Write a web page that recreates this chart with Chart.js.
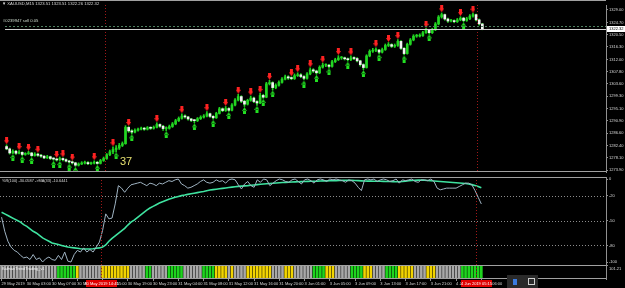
<!DOCTYPE html>
<html>
<head>
<meta charset="utf-8">
<script src="https://cdn.jsdelivr.net/npm/chart.js@4.4.0/dist/chart.umd.min.js"></script>
<style>
body { margin: 0; background: #000; }
#wrap { position: relative; width: 625px; height: 288px; background: #000; overflow: hidden; font-family: "Liberation Sans", Arial, sans-serif; }
canvas { position: absolute; left: 0; }
.t { position: absolute; white-space: nowrap; color: #dcdcdc; font-size: 4.2px; line-height: 1; }
</style>
</head>
<body>
<div id="wrap">
  <canvas id="priceChart" width="625" height="177" style="top:0"></canvas>
  <canvas id="wprChart" width="625" height="88" style="top:177px"></canvas>
  <canvas id="stripChart" width="625" height="23" style="top:265px"></canvas>
  <div class="t" style="left:2px;top:2px">▼ XAUUSD,M15 1323.51 1323.51 1322.26 1322.32</div>
  <div class="t" style="left:3px;top:19px;color:#cfdccf">#0239947 sell 0.05</div>
  <div class="t" style="left:2px;top:179px;font-size:3.9px">%R(100) -30.0587 -&gt;MA(33) -10.6441</div>
  <div class="t" style="left:2px;top:267px;font-size:3.9px;color:#f4f4f4">KalmanTrendTrading_v1</div>
  <div style="position:absolute;left:120px;top:155px;font-size:11px;color:#e6e070;font-family:'Liberation Sans',Arial,sans-serif">37</div>
  <div style="position:absolute;left:507px;top:275px;width:31px;height:13px;background:#2a2a2a"></div>
  <div style="position:absolute;left:513px;top:279px;width:4px;height:6px;background:#3a7be0"></div>
  <div style="position:absolute;left:528px;top:278px;width:5px;height:5px;border:1px solid #d0d0d0"></div>
</div>
<script>
// ---- data ----
var timeTicks = ['29 May 2019', '30 May 03:00', '30 May 07:00', '30 May 11:00', '30 May 15:00',
  '30 May 19:00', '30 May 23:00', '31 May 04:00', '31 May 08:00', '31 May 12:00', '31 May 16:00',
  '31 May 20:00', '3 Jun 01:00', '3 Jun 05:00', '3 Jun 09:00', '3 Jun 13:00', '3 Jun 17:00',
  '3 Jun 21:00', '4 Jun 02:00', '4 Jun 06:00'];
var priceTicks = [1273.90, 1278.10, 1282.40, 1286.60, 1290.90, 1295.10, 1299.30, 1303.60,
  1307.80, 1312.00, 1316.30, 1320.50, 1324.70, 1329.00];
var wprTicks = [0, -20, -50, -80, -100];
var wprLevels = [-20, -50, -80];
var stripAxisLabels = ['101.21'];

var firstOpen = 1282.0;
var closes = [1281.2,1279.8,1280.4,1279.7,1280.0,1279.3,1279.5,1279.8,1278.9,1279.4,
  1279.0,1278.7,1278.1,1278.5,1277.9,1277.7,1277.4,1277.9,1277.5,1277.0,
  1276.7,1276.4,1275.6,1276.0,1276.3,1276.5,1276.1,1276.3,1276.6,1276.2,
  1277.2,1277.9,1279.2,1280.2,1281.0,1281.5,1282.4,1283.0,1288.6,1287.4,
  1287.0,1287.6,1288.0,1288.2,1288.0,1288.5,1288.3,1288.6,1289.6,1289.0,
  1288.2,1288.3,1288.9,1289.8,1290.9,1291.7,1292.5,1292.2,1291.5,1291.0,
  1290.9,1291.6,1292.1,1292.5,1293.3,1292.4,1291.9,1293.4,1295.0,1294.4,
  1295.1,1294.5,1296.3,1298.0,1299.2,1297.6,1296.6,1297.9,1298.7,1297.5,
  1297.0,1299.6,1299.0,1303.6,1304.0,1302.3,1303.1,1304.1,1305.2,1306.0,
  1305.6,1305.4,1306.4,1306.7,1306.1,1305.5,1307.0,1308.4,1308.0,1307.4,
  1309.3,1310.0,1310.0,1309.6,1311.2,1311.9,1312.5,1312.5,1312.2,1311.9,
  1312.5,1312.3,1311.5,1310.2,1309.2,1313.2,1314.8,1315.1,1315.2,1314.5,
  1315.4,1316.8,1317.1,1316.5,1316.8,1318.2,1315.8,1314.0,1317.2,1318.7,
  1320.0,1320.0,1320.2,1321.2,1322.0,1321.2,1322.2,1324.2,1326.6,1327.4,
  1325.9,1325.2,1325.3,1325.0,1325.6,1326.2,1325.4,1326.0,1326.9,1327.4,
  1325.6,1324.2,1322.32];
var highs = [1282.6,1281.5,1280.9,1280.7,1280.6,1280.2,1279.9,1280.4,1280.0,1279.9,
  1279.7,1279.3,1278.9,1279.0,1278.7,1278.2,1277.9,1278.4,1278.1,1277.8,
  1277.3,1277.0,1276.6,1276.4,1276.8,1277.0,1276.8,1276.7,1277.1,1276.9,
  1277.6,1278.4,1279.6,1280.8,1281.9,1282.3,1283.1,1283.6,1289.2,1288.9,
  1287.8,1288.1,1288.4,1288.7,1288.6,1288.9,1288.8,1289.1,1290.2,1289.8,
  1289.3,1288.8,1289.4,1290.3,1291.4,1292.2,1293.3,1292.9,1292.4,1291.7,
  1291.3,1292.0,1292.6,1293.0,1294.0,1293.5,1292.7,1293.8,1295.5,1295.3,
  1295.8,1295.4,1296.8,1298.5,1300.0,1299.5,1297.9,1298.3,1299.4,1299.0,
  1297.8,1300.3,1300.0,1304.1,1304.8,1304.3,1303.6,1304.6,1305.7,1306.6,
  1306.4,1306.0,1307.0,1307.4,1307.1,1306.4,1307.5,1309.1,1308.8,1308.3,
  1309.8,1310.7,1310.5,1310.3,1311.7,1312.4,1313.3,1313.0,1312.8,1312.5,
  1313.2,1312.9,1312.6,1311.7,1310.5,1313.6,1315.3,1315.8,1316.0,1315.5,
  1315.9,1317.3,1317.8,1317.4,1317.3,1318.8,1318.5,1316.1,1317.6,1319.2,
  1320.5,1320.6,1320.8,1321.7,1322.7,1322.3,1322.7,1324.7,1327.1,1328.0,
  1327.6,1326.2,1325.8,1325.6,1326.1,1326.7,1326.5,1326.5,1327.4,1327.9,
  1327.6,1325.9,1324.4];
var lows = [1280.9,1279.4,1279.6,1279.3,1279.5,1278.9,1279.0,1279.3,1278.6,1278.7,
  1278.6,1278.3,1277.8,1277.9,1277.5,1277.3,1277.0,1277.2,1277.1,1276.7,
  1276.3,1276.0,1275.2,1275.3,1275.8,1276.0,1275.8,1275.9,1276.0,1275.9,
  1276.0,1276.9,1277.6,1278.9,1279.6,1280.2,1281.0,1282.0,1282.8,1286.9,
  1286.4,1286.7,1287.3,1287.7,1287.6,1287.7,1287.9,1288.0,1288.4,1288.6,
  1287.6,1287.5,1288.0,1288.6,1289.5,1290.6,1291.4,1291.8,1291.1,1290.6,
  1290.2,1290.6,1291.3,1291.8,1292.2,1292.0,1291.4,1291.7,1293.2,1294.0,
  1294.1,1294.1,1294.3,1296.0,1297.7,1297.1,1295.8,1296.3,1297.6,1297.1,
  1296.2,1296.8,1298.6,1298.8,1303.2,1301.5,1301.9,1302.8,1303.8,1304.9,
  1305.1,1305.0,1305.1,1306.1,1305.7,1304.9,1305.2,1306.7,1307.5,1306.9,
  1307.1,1309.0,1309.5,1309.1,1309.3,1310.9,1311.6,1312.0,1311.8,1311.4,
  1311.6,1311.9,1311.1,1309.7,1308.5,1309.0,1312.9,1314.4,1314.7,1314.0,
  1314.2,1315.1,1316.4,1316.1,1316.1,1316.5,1315.4,1313.5,1313.8,1316.9,
  1318.4,1319.6,1319.7,1319.9,1320.9,1320.8,1320.9,1321.9,1323.9,1326.2,
  1325.5,1324.7,1324.9,1324.6,1324.7,1325.3,1325.0,1325.1,1325.7,1326.5,
  1325.2,1323.8,1322.2];

var downArrowBars = [0,4,7,10,16,18,21,28,34,39,48,56,64,70,74,78,81,84,91,93,97,101,106,110,118,122,125,134,139,145,149];
var upArrowBars = [2,5,8,15,17,20,22,29,35,40,51,60,66,71,76,80,82,85,95,99,103,109,114,119,127,135,146];

var orderPrice = 1323.35;

var wpr = [-46,-63,-75,-82,-86,-88,-92,-95,-94,-97,
  -91,-97,-95,-100,-96,-94,-97,-98,-92,-97,
  -88,-99,-100,-91,-86,-88,-83,-88,-85,-88,
  -82,-76,-62,-42,-48,-47,-30,-8,-11,-16,
  -11,-7,-6,-5,-4,-6,-8,-5,-6,-8,
  -5,-6,-4,-2,-3,-1,0,-6,-8,-11,
  -10,-8,-6,-3,-1,-4,-5,-4,-1,-3,
  -2,-5,-1,0,-1,-7,-12,-6,-3,-8,
  -10,-1,-4,0,-1,-8,-5,-2,0,-1,
  -3,-4,-1,0,-3,-6,-1,0,-2,-5,
  -1,0,-1,-3,0,-1,0,-1,-2,-4,
  -1,-2,-5,-10,-14,-1,0,-1,0,-3,
  -1,0,-1,-3,-2,0,-5,-1,-2,-1,
  0,-3,-4,-1,-1,-2,0,-3,-11,-13,
  -12,-11,-11,-11,-11,-9,-7,-5,-5,-7,
  -14,-22,-30.06];
var wprMa = [-40,-42,-44,-46,-48,-50,-52,-55,-57,-60,
  -63,-65,-68,-71,-73,-75,-77,-78,-79,-80,
  -81,-82,-82.5,-83,-83.5,-84,-84.3,-84.3,-84.3,-84,
  -83.5,-83,-82,-79.5,-75,-71.5,-68.5,-65.5,-62.5,-59.5,
  -55.5,-52,-49.5,-46.5,-43.5,-40.5,-37.5,-35,-33,-31,
  -29,-27.5,-26,-24.5,-23.3,-22.1,-21,-20,-19.3,-18.5,
  -17.8,-17.1,-16.4,-15.7,-15,-14.1,-13.3,-12.8,-12.3,-11.8,
  -11.3,-10.8,-10.3,-9.8,-9.3,-8.9,-8.6,-8.3,-8.0,-7.6,
  -7.2,-6.8,-6.4,-6.0,-5.7,-5.4,-5.1,-4.8,-4.5,-4.3,
  -4.1,-3.9,-3.7,-3.5,-3.4,-3.2,-3.0,-2.9,-2.8,-2.7,
  -2.6,-2.4,-2.3,-2.2,-2.1,-2.0,-1.9,-1.8,-1.7,-1.6,
  -1.5,-1.6,-1.8,-2.0,-2.2,-2.4,-2.5,-2.6,-2.7,-2.8,
  -2.8,-2.9,-3.0,-3.1,-3.2,-3.3,-3.4,-3.0,-2.6,-2.2,
  -1.8,-1.5,-1.3,-1.3,-1.5,-1.8,-2.1,-2.4,-2.7,-3.0,
  -3.3,-3.6,-3.9,-4.2,-4.5,-4.8,-5.1,-5.5,-6.0,-6.8,
  -7.8,-9.0,-10.64];

// strip indicator state per bar: - neutral, G up, Y caution
var stripCodes = ('------------------' + 'GGGGGG' + 'Y' + '-------' + 'YYYYYYYYY' + '-----' +
  'GG' + '-----' + 'GGGGG' + '------' + 'GGGG' + 'YYYY' + '-' + 'Y' + '----' + 'YYYYYYYY' +
  '----' + 'YYY' + '------' + 'GGGG' + 'YYY' + '-----' + 'GGGG' + 'YYY' + '----' + 'GGGG' +
  'YYYYY' + '----' + 'YYY' + '--------' + 'GGGGGGG').split('');

// vertical line objects (bar position) and their time captions
var markerBars = [31.5, 150.4];
var markerTimes = ['30 May 2019 14:45', '4 Jun 2019 05:15'];

// ---- layout / style ----
var totalBars = 192;
var barsPerTick = 8;
var axisWidth = 19;
var tickFont = { family: 'Liberation Sans', size: 4 };
var frameColor = '#a0a0a0';
var barIndex = Array.from({ length: totalBars }, function (_, i) { return i; });
var opens = closes.map(function (c, i) { return i === 0 ? firstOpen : closes[i - 1]; });

function makeArrow(color, down) {
  var c = document.createElement('canvas');
  c.width = 5; c.height = 7;
  var g = c.getContext('2d');
  g.fillStyle = color;
  g.beginPath();
  if (down) {
    g.rect(1, 0, 3, 3.5);
    g.moveTo(0, 3); g.lineTo(5, 3); g.lineTo(2.5, 7);
  } else {
    g.rect(1, 3.5, 3, 3.5);
    g.moveTo(0, 4); g.lineTo(5, 4); g.lineTo(2.5, 0);
  }
  g.fill();
  return c;
}

function hline(ctx, y, x0, x1, color, dash) {
  ctx.save();
  ctx.strokeStyle = color; ctx.lineWidth = 1;
  ctx.setLineDash(dash || []);
  ctx.beginPath(); ctx.moveTo(x0, y); ctx.lineTo(x1, y); ctx.stroke();
  ctx.restore();
}

var markerLines = {
  id: 'markerLines',
  afterDatasetsDraw: function (chart) {
    var ctx = chart.ctx, a = chart.chartArea, x = chart.scales.x;
    ctx.save();
    ctx.strokeStyle = '#a01818'; ctx.lineWidth = 1; ctx.setLineDash([1, 2]);
    markerBars.forEach(function (b) {
      var px = Math.round(x.getPixelForValue(b)) + 0.5;
      ctx.beginPath(); ctx.moveTo(px, a.top); ctx.lineTo(px, a.bottom); ctx.stroke();
    });
    ctx.restore();
  }
};

function rightAxis(min, max, ticks, fmt) {
  return {
    position: 'right', min: min, max: max,
    afterBuildTicks: function (s) { s.ticks = ticks.map(function (v) { return { value: v }; }); },
    afterFit: function (s) { s.width = axisWidth; s.paddingTop = 0; s.paddingBottom = 0; },
    ticks: { color: '#d8d8d8', font: tickFont, padding: 1, autoSkip: false, callback: fmt },
    grid: { drawOnChartArea: false, color: '#909090', tickLength: 2 },
    border: { color: '#909090' }
  };
}

var hiddenX = { display: false, offset: true, grid: { offset: false } };
var common = {
  responsive: false, animation: false, events: [],
  layout: { padding: 0 },
  plugins: { legend: { display: false }, tooltip: { enabled: false } }
};

// ---- price panel ----
new Chart(document.getElementById('priceChart'), {
  type: 'bar',
  data: {
    labels: barIndex,
    datasets: [
      { data: lows.map(function (l, i) { return [l, highs[i]]; }), backgroundColor: '#1ed41e',
        barThickness: 1, grouped: false, order: 3 },
      { data: closes.map(function (c, i) { return [opens[i], c]; }),
        backgroundColor: closes.map(function (c, i) { return c >= opens[i] ? '#22d622' : '#f4f4f4'; }),
        barThickness: 2, minBarLength: 1, grouped: false, order: 2 },
      { type: 'line', showLine: false, order: 1, pointStyle: makeArrow('#ff2222', true), pointRadius: 3,
        data: downArrowBars.map(function (i) { return { x: i, y: highs[i] + 1.4 }; }) },
      { type: 'line', showLine: false, order: 1, pointStyle: makeArrow('#22e022', false), pointRadius: 3,
        data: upArrowBars.map(function (i) { return { x: i, y: lows[i] - 1.4 }; }) }
    ]
  },
  options: Object.assign({}, common, {
    scales: {
      x: hiddenX,
      y: rightAxis(1273.25, 1330.72, priceTicks, function (v) { return v.toFixed(2); })
    }
  }),
  plugins: [markerLines, {
    id: 'priceExtras',
    afterDatasetsDraw: function (chart) {
      var ctx = chart.ctx, a = chart.chartArea, y = chart.scales.y;
      hline(ctx, Math.round(y.getPixelForValue(orderPrice)) + 0.5, a.left, a.right, '#4f8060', [2, 2]);
      hline(ctx, Math.round(y.getPixelForValue(closes[closes.length - 1])) + 0.5, a.left, a.right, '#d0d0d0');
      hline(ctx, 0.5, 0, a.right, frameColor);
      hline(ctx, a.bottom - 0.5, 0, a.right, frameColor);
    },
    afterDraw: function (chart) {
      var ctx = chart.ctx, a = chart.chartArea, y = chart.scales.y;
      var last = closes[closes.length - 1];
      var py = Math.round(y.getPixelForValue(last));
      ctx.save();
      ctx.fillStyle = '#ffffff';
      ctx.fillRect(a.right + 1, py - 3, 625 - a.right - 1, 6);
      ctx.fillStyle = '#000';
      ctx.font = '4px "Liberation Sans"';
      ctx.textBaseline = 'middle';
      ctx.fillText(last.toFixed(2), a.right + 3, py);
      ctx.restore();
    }
  }]
});

// ---- Williams %R panel ----
new Chart(document.getElementById('wprChart'), {
  type: 'line',
  data: {
    labels: barIndex,
    datasets: [
      { data: wpr, borderColor: '#9fb3c2', borderWidth: 1, pointRadius: 0, tension: 0 },
      { data: wprMa, borderColor: '#3fe3a0', borderWidth: 1.6, pointRadius: 0, tension: 0 }
    ]
  },
  options: Object.assign({}, common, {
    scales: {
      x: hiddenX,
      y: rightAxis(-103.6, 2.41, wprTicks, function (v) { return String(v); })
    }
  }),
  plugins: [markerLines, {
    id: 'wprLevels',
    beforeDatasetsDraw: function (chart) {
      var ctx = chart.ctx, a = chart.chartArea, y = chart.scales.y;
      wprLevels.forEach(function (v) {
        hline(ctx, Math.round(y.getPixelForValue(v)) + 0.5, a.left, a.right, '#8c8c8c', [1, 2]);
      });
    },
    afterDatasetsDraw: function (chart) {
      hline(chart.ctx, 0.5, 0, chart.chartArea.right, frameColor);
    }
  }]
});

// ---- signal strip + time axis ----
var stripColors = { '-': '#a8a8a8', 'G': '#1ed41e', 'Y': '#f2d400' };
new Chart(document.getElementById('stripChart'), {
  type: 'bar',
  data: {
    labels: barIndex,
    datasets: [{
      data: stripCodes.map(function () { return 1; }),
      backgroundColor: stripCodes.map(function (c) { return stripColors[c]; }),
      barThickness: 2
    }]
  },
  options: Object.assign({}, common, {
    scales: {
      x: {
        offset: true,
        afterFit: function (s) { s.height = 9; s.paddingLeft = 0; s.paddingRight = 0; },
        grid: { offset: false, drawOnChartArea: false, tickLength: 2,
          color: function (c) { return c.tick && c.tick.label ? '#909090' : 'rgba(0,0,0,0)'; } },
        border: { display: false },
        ticks: {
          autoSkip: false, maxRotation: 0, minRotation: 0, align: 'start', padding: 0,
          color: '#d8d8d8', font: tickFont,
          callback: function (v, i) { return i % barsPerTick === 0 ? (timeTicks[i / barsPerTick] || '') : ''; }
        }
      },
      y: Object.assign(rightAxis(0, 1, [1], function () { return stripAxisLabels[0]; }), {
        ticks: { color: '#d8d8d8', font: tickFont, padding: 1, labelOffset: 3.5,
          callback: function () { return stripAxisLabels[0]; } }
      })
    }
  }),
  plugins: [markerLines, {
    id: 'stripFrame',
    afterDatasetsDraw: function (chart) {
      var ctx = chart.ctx, a = chart.chartArea;
      hline(ctx, a.top + 0.5, 0, a.right, frameColor);
      hline(ctx, a.bottom - 0.5, 0, a.right, frameColor);
    },
    afterDraw: function (chart) {
      var ctx = chart.ctx, a = chart.chartArea, x = chart.scales.x;
      ctx.save();
      ctx.font = '4px "Liberation Sans"';
      ctx.textAlign = 'center'; ctx.textBaseline = 'middle';
      markerBars.forEach(function (b, k) {
        var px = Math.round(x.getPixelForValue(b));
        ctx.fillStyle = '#e00000';
        ctx.fillRect(px - 15, a.bottom + 1, 31, 7);
        ctx.fillStyle = '#ffffff';
        ctx.fillText(markerTimes[k], px + 0.5, a.bottom + 4.5);
      });
      ctx.restore();
    }
  }]
});
</script>
</body>
</html>
